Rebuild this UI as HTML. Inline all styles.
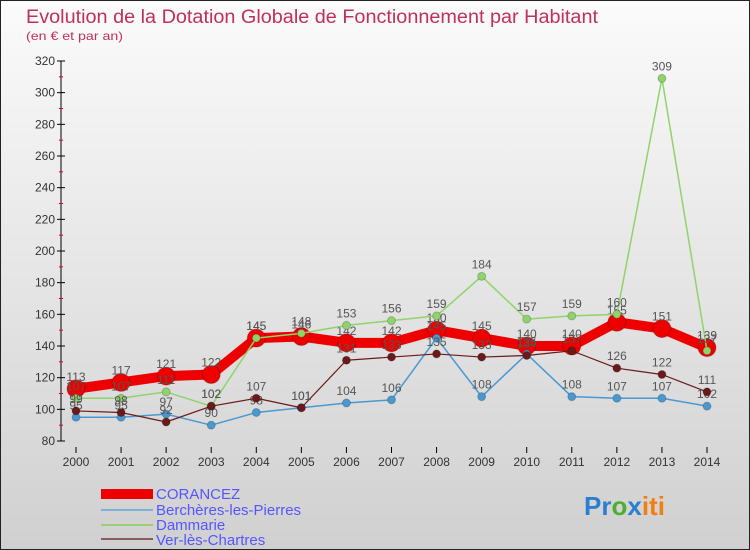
<!DOCTYPE html>
<html><head><meta charset="utf-8"><style>
body{margin:0;}
#c{width:750px;height:550px;position:relative;overflow:hidden;background:linear-gradient(#fbfbfb,#d0d0d0);box-sizing:border-box;border:1px solid #222;font-family:"Liberation Sans",sans-serif;}
svg{position:absolute;left:0;top:0;}
</style></head><body>
<div id="c">
<svg id="s" width="750" height="550">
<text x="25" y="22" font-size="19" fill="#c0305a" textLength="572" lengthAdjust="spacingAndGlyphs">Evolution de la Dotation Globale de Fonctionnement par Habitant</text>
<text x="25" y="39" font-size="12" fill="#c0305a" textLength="97" lengthAdjust="spacingAndGlyphs">(en € et par an)</text>
<line x1="60" y1="60" x2="60" y2="440" stroke="#000"/>
<g id="legend">
<rect x="100" y="488" width="52" height="10" fill="#ee0000"/>
<text x="155" y="498" font-size="15" fill="#5555ff">CORANCEZ</text>
<line x1="100" y1="509" x2="152" y2="509" stroke="#7fb0d8" stroke-width="2"/>
<text x="155" y="514" font-size="15" fill="#5555ff">Berchères-les-Pierres</text>
<line x1="100" y1="524" x2="152" y2="524" stroke="#99d077" stroke-width="2"/>
<text x="155" y="529" font-size="15" fill="#5555ff">Dammarie</text>
<line x1="100" y1="538" x2="152" y2="538" stroke="#8b5a5a" stroke-width="2"/>
<text x="155" y="544" font-size="15" fill="#5555ff">Ver-lès-Chartres</text>
</g>
<text x="583" y="514" font-size="26" font-weight="bold"><tspan fill="#2a7fd0">Pr</tspan><tspan fill="#4caf30">o</tspan><tspan fill="#2a7fd0">x</tspan><tspan fill="#f07f10">iti</tspan></text>
</svg>
</div>
<script>
const years=["2000","2001","2002","2003","2004","2005","2006","2007","2008","2009","2010","2011","2012","2013","2014"];
const yTicks=[80,100,120,140,160,180,200,220,240,260,280,300,320];
const corancez=[113,117,121,122,145,146,142,142,150,145,140,140,155,151,139];
const bercheres=[95,95,97,90,98,101,104,106,145,108,135,108,107,107,102];
const dammarie=[107,107,111,102,145,148,153,156,159,184,157,159,160,309,137];
const ver=[99,98,92,102,107,101,131,133,135,133,134,137,126,122,111];
const NS="http://www.w3.org/2000/svg";
const s=document.getElementById('s');
const X=i=>75+i*(706-75)/(years.length-1);
const Y=v=>440-(v-80)*380/240;
function mk(t,a,p){const e=document.createElementNS(NS,t);for(const k in a)e.setAttribute(k,a[k]);(p||s).appendChild(e);return e;}
yTicks.forEach((v,i)=>{
  const t=mk('line',{x1:56,x2:64,y1:Y(v),y2:Y(v),stroke:'#000'});
  
  
  const l=mk('text',{x:54,y:Y(v)+4,'font-size':12,'text-anchor':'end',fill:'#333'});
  l.textContent=v;
  
  
  if(i<yTicks.length-1){
    const m=mk('line',{x1:58,x2:62,y1:Y(v+10),y2:Y(v+10),stroke:'#e00'});
    
    
  }
});
years.forEach((y,i)=>{
  const t=mk('line',{x1:X(i),x2:X(i),y1:446,y2:452,stroke:'#000'});
  
  
  const l=mk('text',{x:X(i),y:465,'font-size':12,'text-anchor':'middle',fill:'#333'});
  l.textContent=y;
  
  
});
function series(d,color,w,r,name){
  const g=mk('g',{});
  
  
  const p=mk('polyline',{points:d.map((v,i)=>X(i)+','+Y(v)).join(' '),fill:'none',stroke:color,'stroke-width':w,'stroke-linejoin':'round'},g);
  
  
  d.forEach((v,i)=>{
    const c=mk('circle',{cx:X(i),cy:Y(v),r:r,fill:color,stroke:'rgba(0,0,0,0.2)'},g);
    
    
    const l=mk('text',{x:X(i),y:Y(v)-8,'font-size':12,'text-anchor':'middle',fill:'#555'},g);
    l.textContent=v;
    
    
  });
}
series(corancez,'#ee0000',10,9,'corancez');
series(bercheres,'#4a98d0',1.5,4,'bercheres');
series(dammarie,'#8fd46a',1.5,4,'dammarie');
series(ver,'#6a1a1a',1.2,4,'ver');
</script>
</body></html>
